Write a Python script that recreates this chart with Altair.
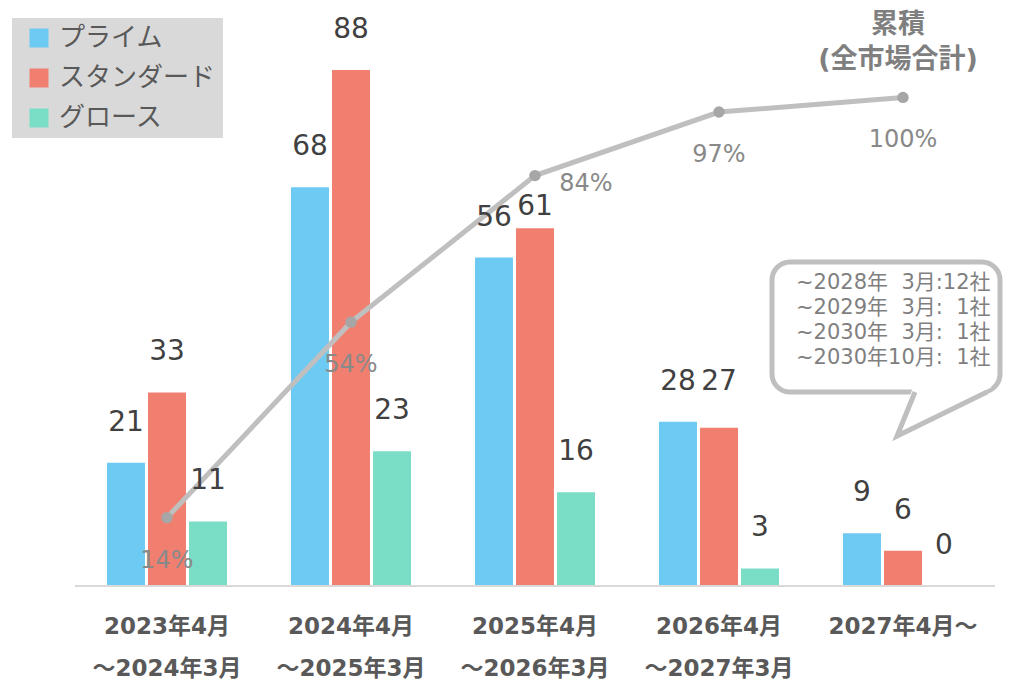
import altair as alt
import pandas as pd

# ---------------- data ----------------
categories = [
    "2023年4月|～2024年3月",
    "2024年4月|～2025年3月",
    "2025年4月|～2026年3月",
    "2026年4月|～2027年3月",
    "2027年4月～",
]
series = ["プライム", "スタンダード", "グロース"]
prime = [21, 68, 56, 28, 9]
standard = [33, 88, 61, 27, 6]
growth = [11, 23, 16, 3, 0]
cumulative = [14, 54, 84, 97, 100]
colors = ["#6DCAF2", "#F17F70", "#7ADDC5"]
title_lines = ["累積", "(全市場合計)"]
NB = "\u00a0"
note_lines = [f"~2028年{NB}{NB}3月:12社", f"~2029年{NB}{NB}3月:{NB}{NB}1社",
              f"~2030年{NB}{NB}3月:{NB}{NB}1社", f"~2030年10月:{NB}{NB}1社"]

rows = []
for i, c in enumerate(categories):
    for s, vals in zip(series, [prime, standard, growth]):
        rows.append({"cat": c, "series": s, "value": vals[i]})
bars_df = pd.DataFrame(rows)
line_df = pd.DataFrame({"cat": categories, "cum": cumulative,
                        "label": [f"{v}%" for v in cumulative]})
cat_df = pd.DataFrame({"cat": categories})
one = pd.DataFrame({"a": [0]})

FONT = "DejaVu Sans, Noto Sans CJK JP"
JPFONT = "Noto Sans CJK JP"

xscale = alt.Scale(domain=categories, paddingInner=0.348, paddingOuter=0.174)
x_plain = alt.X("cat:N", sort=categories, scale=xscale, axis=None)
xoff = alt.XOffset("series:N", sort=series, scale=alt.Scale(domain=series, paddingInner=0.075))
yb = alt.Y("value:Q", scale=alt.Scale(domain=[0, 98.57], nice=False, zero=True), axis=None)
yl = alt.Y("cum:Q", scale=alt.Scale(domain=[0, 118.3], nice=False, zero=True), axis=None)

shadow = alt.Chart(bars_df).mark_bar(color="#000000", opacity=0.22, xOffset=3, yOffset=1).encode(
    x=x_plain, xOffset=xoff, y=yb)

bars = alt.Chart(bars_df).mark_bar().encode(
    x=x_plain, xOffset=xoff, y=yb,
    color=alt.Color("series:N", sort=series,
                    scale=alt.Scale(domain=series, range=colors),
                    legend=alt.Legend(title=None, orient="none", legendX=-63, legendY=10,
                                      fillColor="#d9d9d9", padding=7, symbolOffset=7,
                                      symbolType="square", symbolSize=361, symbolStrokeWidth=0,
                                      labelFont=JPFONT, labelFontSize=26, labelColor="#595959",
                                      rowPadding=14, labelOffset=7, labelLimit=300)))

# baseline (axis domain) line
domain = alt.Chart(one).mark_rule(color="#d9d9d9", strokeWidth=2).encode(
    x=alt.value(0), x2=alt.value(920), y=alt.value(578))

# category labels, two lines
lab = dict(font=FONT, fontWeight="bold", fontSize=23, color="#595959", baseline="middle", align="center")
cat1 = alt.Chart(cat_df).transform_calculate(t="split(datum.cat, '|')[0]").mark_text(**lab).encode(
    x=x_plain, y=alt.value(619), text="t:N")
cat2 = alt.Chart(cat_df).transform_calculate(
    t="length(split(datum.cat, '|')) > 1 ? split(datum.cat, '|')[1] : ''").mark_text(**lab).encode(
    x=x_plain, y=alt.value(661), text="t:N")

vtext = dict(font=FONT, fontSize=28, color="#404040", baseline="alphabetic")
values = alt.Chart(bars_df).transform_filter(
    "datum.value != 61 && datum.value != 27").mark_text(dy=-32, **vtext).encode(
    x=x_plain, xOffset=xoff, y=yb, text="value:Q")
value61 = alt.Chart(bars_df).transform_filter("datum.value == 61").mark_text(dy=-13, **vtext).encode(
    x=x_plain, xOffset=xoff, y=yb, text="value:Q")
value27 = alt.Chart(bars_df).transform_filter("datum.value == 27").mark_text(dy=-38, **vtext).encode(
    x=x_plain, xOffset=xoff, y=yb, text="value:Q")

line = alt.Chart(line_df).mark_line(color="#bfbfbf", strokeWidth=5).encode(x=x_plain, y=yl)
pts = alt.Chart(line_df).mark_circle(size=130, color="#a6a6a6", opacity=1).encode(x=x_plain, y=yl)
ptext = dict(font=FONT, fontSize=24, color="#898989", baseline="middle")
pct = alt.Chart(line_df).transform_filter("datum.cum != 84").mark_text(dy=43, **ptext).encode(
    x=x_plain, y=yl, text="label:N")
pct84 = alt.Chart(line_df).transform_filter("datum.cum == 84").mark_text(dx=51, dy=8, **ptext).encode(
    x=x_plain, y=yl, text="label:N")

title = alt.Chart(one).mark_text(font=FONT, fontWeight="bold", fontSize=27, color="#7f7f7f",
                                 baseline="top", align="center", lineHeight=35).encode(
    x=alt.value(823), y=alt.value(4), text=alt.value(title_lines))

box = alt.Chart(one).mark_rect(cornerRadius=18, fill="white", stroke="#bfbfbf", strokeWidth=5).encode(
    x=alt.value(697), x2=alt.value(925), y=alt.value(254), y2=alt.value(384))
tail_fill_df = pd.DataFrame({"py": [379, 428], "x1": [838, 822], "x2": [917, 822]})
tail_fill = alt.Chart(tail_fill_df).mark_area(orient="horizontal", color="white", opacity=1).encode(
    y=alt.Y("py:Q", scale=None, axis=None),
    x=alt.X("x1:Q", scale=None, axis=None), x2="x2:Q")
tail_line_df = pd.DataFrame({"i": [0, 1, 2], "px": [840, 822, 912], "py": [384, 428, 384]})
tail_line = alt.Chart(tail_line_df).mark_line(color="#bfbfbf", strokeWidth=5, strokeJoin="miter").encode(
    x=alt.X("px:Q", scale=None, axis=None), y=alt.Y("py:Q", scale=None, axis=None),
    order="i:Q")
note = alt.Chart(one).mark_text(font=FONT, fontSize=21, color="#7f7f7f", align="left",
                                baseline="middle", lineHeight=25).encode(
    x=alt.value(721), y=alt.value(275), text=alt.value(note_lines))

chart = alt.layer(shadow, bars, domain, cat1, cat2, line, pts, values, value61, value27, pct, pct84,
                  title, box, tail_fill, tail_line, note).resolve_scale(y="independent").properties(
    width=920, height=578,
    padding={"left": 67, "top": 0, "right": 8, "bottom": 97},
    autosize=alt.AutoSizeParams(type="none"),
).configure_view(strokeWidth=0)

chart.save("out.html", embed_options={"renderer": "svg", "actions": False})
